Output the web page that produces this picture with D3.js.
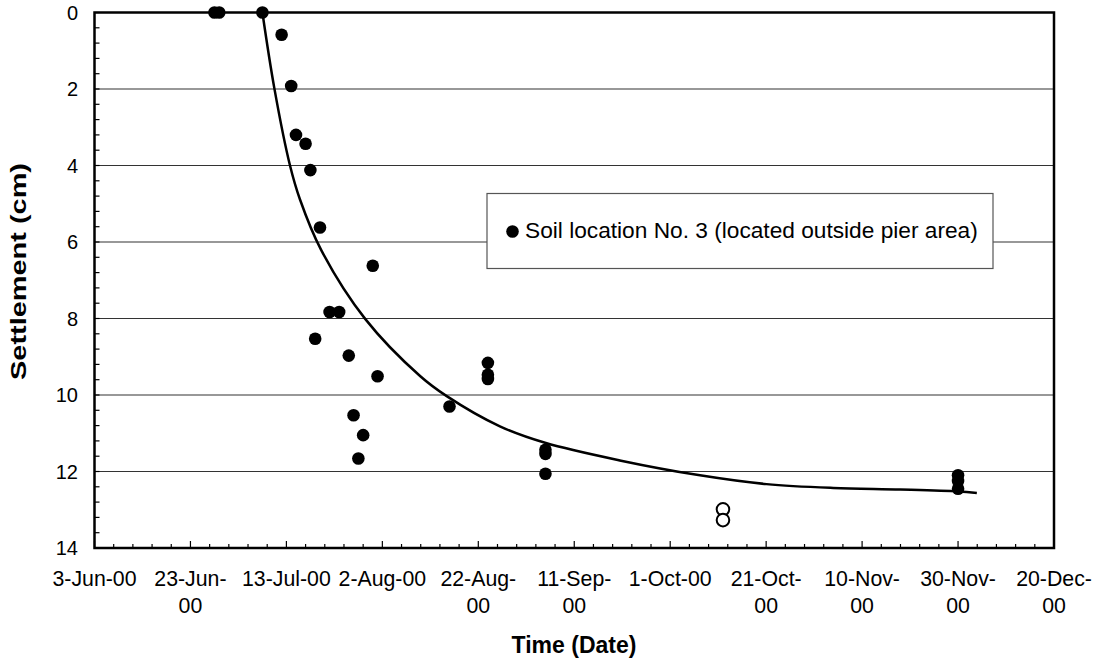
<!DOCTYPE html>
<html><head><meta charset="utf-8">
<script src="https://cdn.jsdelivr.net/npm/d3@7"></script>
<style>
body{margin:0;background:#fff;}
text{font-family:"Liberation Sans",Arial,sans-serif;}
</style></head>
<body><svg id="c" width="1099" height="661"></svg>
<script>
// ---- data ----
const seriesName = "Soil location No. 3 (located outside pier area)";
const pointDates = ["2000-06-28","2000-06-29","2000-07-08","2000-07-12","2000-07-14","2000-07-15","2000-07-17","2000-07-18","2000-07-20","2000-07-22","2000-07-24","2000-07-19","2000-07-26","2000-07-27","2000-07-28","2000-07-29","2000-07-31","2000-08-01","2000-08-16","2000-08-24","2000-08-24","2000-08-24","2000-09-05","2000-09-05","2000-09-05","2000-11-30","2000-11-30","2000-11-30"];
const pointValues = [0,0,0,0.58,1.92,3.2,3.43,4.12,5.62,7.83,7.83,8.53,8.97,10.53,11.66,11.05,6.62,9.51,10.3,9.16,9.47,9.58,11.43,11.54,12.06,12.1,12.25,12.45];
const openDates = ["2000-10-12","2000-10-12"];
const openValues = [12.99,13.27];
const curveDates = ["2000-07-08T00","2000-07-10T12","2000-07-13T18","2000-07-15T20","2000-07-20T05","2000-07-29T10","2000-08-09T22","2000-08-15T10","2000-08-26T12","2000-09-04T22","2000-09-20T12","2000-10-07T05","2000-10-21T02","2000-11-04T00","2000-11-18T00","2000-11-30T00","2000-12-03T22"];
const curveValues = [0,1.99,4.0,4.89,6.2,8.01,9.51,10.03,10.82,11.25,11.71,12.10,12.33,12.43,12.47,12.52,12.56];
const yTicks = [0,2,4,6,8,10,12,14];
const xTickDates = ["2000-06-03","2000-06-23","2000-07-13","2000-08-02","2000-08-22","2000-09-11","2000-10-01","2000-10-21","2000-11-10","2000-11-30","2000-12-20"];
const xTickLabels = [["3-Jun-00"],["23-Jun-","00"],["13-Jul-00"],["2-Aug-00"],["22-Aug-","00"],["11-Sep-","00"],["1-Oct-00"],["21-Oct-","00"],["10-Nov-","00"],["30-Nov-","00"],["20-Dec-","00"]];
const xTitle = "Time (Date)";
const yTitle = "Settlement (cm)";

// ---- layout ----
const parse = d3.utcParse("%Y-%m-%d");
const parseH = d3.utcParse("%Y-%m-%dT%H");
const L = 94.5, R = 1054, T = 12.5, B = 548;
const svg = d3.select("#c");
const x0 = parse("2000-06-03");
const x = d3.scaleUtc().domain([x0, parse("2000-12-20")]).range([L, R]);
const y = d3.scaleLinear().domain([0, 14]).range([T, B]);

// gridlines
svg.append("g").selectAll("line").data(yTicks.filter(v => v > 0 && v < 14)).join("line")
  .attr("x1", L).attr("x2", R).attr("y1", d => y(d)).attr("y2", d => y(d))
  .attr("stroke", "#333").attr("stroke-width", 1.2);

// minor ticks y (inside)
const yMinor = d3.range(0, 14.001, 0.4);
svg.append("g").selectAll("line").data(yMinor).join("line")
  .attr("x1", L).attr("x2", L + 5).attr("y1", d => y(d)).attr("y2", d => y(d))
  .attr("stroke", "#000").attr("stroke-width", 1.2);
// minor ticks x (inside), every 4 days
const xMinor = d3.range(0, 201, 4).map(d => d3.utcDay.offset(x0, d));
svg.append("g").selectAll("line").data(xMinor).join("line")
  .attr("x1", d => x(d)).attr("x2", d => x(d)).attr("y1", B)
  .attr("y2", d => (d3.utcDay.count(x0, d) % 20 === 0) ? B - 7 : B - 4)
  .attr("stroke", "#000").attr("stroke-width", 1.2);

// frame
svg.append("rect").attr("x", L).attr("y", T).attr("width", R - L).attr("height", B - T)
  .attr("fill", "none").attr("stroke", "#000").attr("stroke-width", 2.5);

// y tick labels
svg.append("g").selectAll("text").data(yTicks).join("text")
  .attr("x", L - 16.5).attr("y", d => y(d)).attr("dy", "0.36em")
  .attr("text-anchor", "end").attr("font-size", 20).text(d => d);

// x tick labels
const xl = svg.append("g").selectAll("text").data(xTickDates).join("text")
  .attr("x", d => x(parse(d))).attr("y", 586)
  .attr("text-anchor", "middle").attr("font-size", 21.3);
xl.each(function(d, i) {
  const t = d3.select(this);
  xTickLabels[i].forEach((s, j) => {
    t.append("tspan").attr("x", x(parse(d))).attr("dy", j === 0 ? 0 : 26.5).text(s);
  });
});

// titles
svg.append("text").attr("x", 574).attr("y", 653).attr("text-anchor", "middle")
  .attr("font-size", 23).attr("font-weight", "bold").text(xTitle);
svg.append("text").attr("transform", `translate(25.5,271.5) rotate(-90)`)
  .attr("text-anchor", "middle").attr("font-size", 22).attr("font-weight", "bold")
  .attr("textLength", 217).attr("lengthAdjust", "spacingAndGlyphs").text(yTitle);

// curve
const cdata = curveDates.map((d, i) => [parseH(d), curveValues[i]]);
svg.append("path").datum(cdata)
  .attr("d", d3.line().x(d => x(d[0])).y(d => y(d[1])).curve(d3.curveCatmullRom.alpha(0.5)))
  .attr("fill", "none").attr("stroke", "#000").attr("stroke-width", 2.5);

// points
svg.append("g").selectAll("circle").data(pointDates.map((d, i) => [parse(d), pointValues[i]])).join("circle")
  .attr("cx", d => x(d[0])).attr("cy", d => y(d[1])).attr("r", 6.3).attr("fill", "#000");
svg.append("g").selectAll("circle").data(openDates.map((d, i) => [parse(d), openValues[i]])).join("circle")
  .attr("cx", d => x(d[0])).attr("cy", d => y(d[1])).attr("r", 6.3).attr("fill", "#fff").attr("stroke", "#000").attr("stroke-width", 2);

// legend
const lg = svg.append("g");
lg.append("rect").attr("x", 487).attr("y", 193.5).attr("width", 506).attr("height", 75)
  .attr("fill", "#fff").attr("stroke", "#555").attr("stroke-width", 1.2);
lg.append("circle").attr("cx", 512.5).attr("cy", 231.5).attr("r", 6.3).attr("fill", "#000");
lg.append("text").attr("x", 525).attr("y", 238.3).attr("font-size", 22.7).text(seriesName);
</script></body></html>
